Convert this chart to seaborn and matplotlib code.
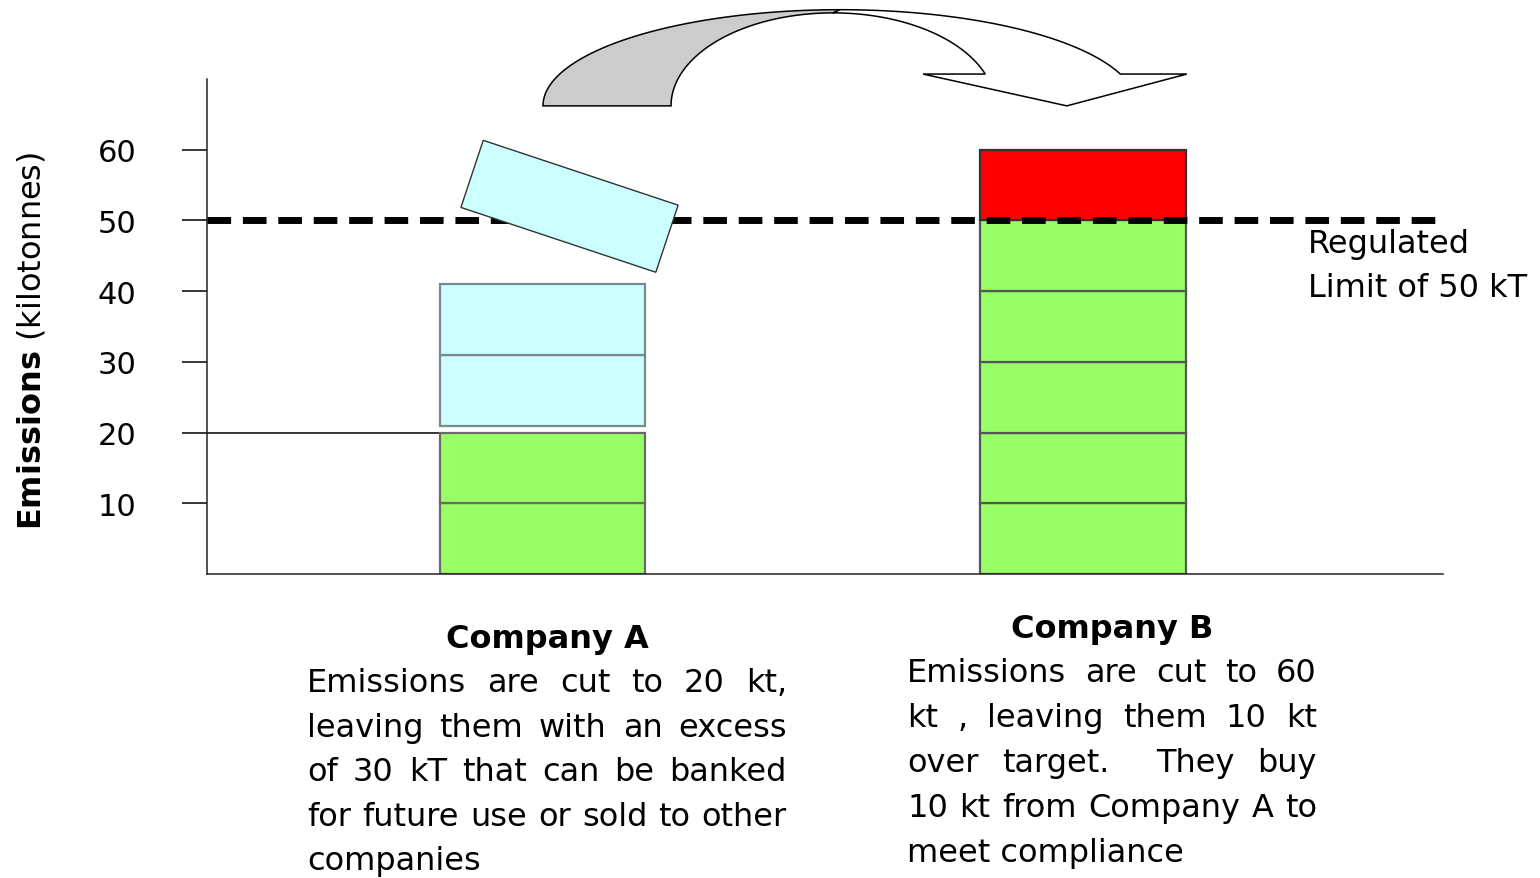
import numpy as np
import pandas as pd
import matplotlib
matplotlib.use("Agg")
import matplotlib.pyplot as plt
import matplotlib.transforms as mtransforms
from matplotlib.patches import Rectangle, Polygon
import seaborn as sns

# ------------------------------------------------------------
# Data (kilotonnes, one block = 10 kt)
# ------------------------------------------------------------
companies = ["Company A", "Company B"]
a_kept = [10, 10]               # green: what A still emits
a_banked = [10, 10]             # light blue: surplus A keeps
a_traded = 10                   # light blue block sold to B
b_kept = [10, 10, 10, 10, 10]   # green: B's emissions under the limit
b_over = [10]                   # red: B's emissions over the limit
limit = 50
y_ticks = [10, 20, 30, 40, 50, 60]

a_text = ["Emissions are cut to 20 kt,",
          "leaving them with an excess",
          "of 30 kT that can be banked",
          "for future use or sold to other",
          "companies"]
b_text = ["Emissions are cut to 60",
          "kt , leaving them 10 kt",
          "over target.  They buy",
          "10 kt from Company A to",
          "meet compliance"]

GREEN = "#99FF66"
BLUE = "#CCFFFF"
RED = "#FF0000"
FS = 23

W, H = 1540, 879
sns.set_theme(style="white")
plt.rcParams["font.family"] = ["DejaVu Sans"]
plt.rcParams["mathtext.fontset"] = "dejavusans"
plt.rcParams["text.color"] = "black"


def fx(px):
    return px / W


def fy(py):
    return 1 - py / H


fig = plt.figure(figsize=(W / 100, H / 100), dpi=100)
ax = fig.add_axes([fx(207), fy(575), (1443 - 207) / W, (575 - 80) / H])

pos = {c: i for i, c in enumerate(companies)}
bar_w = 0.38
stack_gap = 1.0

# build a block table: one row per 10 kt rectangle
rows = []
bottom = 0
for h in a_kept:
    rows.append(("Company A", bottom, h, GREEN, "#6a6a6a"))
    bottom += h
bottom += stack_gap
for h in a_banked:
    rows.append(("Company A", bottom, h, BLUE, "#7a8a8a"))
    bottom += h
bottom = 0
for h in b_kept:
    rows.append(("Company B", bottom, h, GREEN, "#555555"))
    bottom += h
bottom = limit
for h in b_over:
    rows.append(("Company B", bottom, h, RED, "#333333"))
    bottom += h
blocks = pd.DataFrame(rows, columns=["company", "bottom", "height", "fill", "edge"])

for _, r in blocks.iterrows():
    ax.bar(pos[r["company"]], r["height"], bottom=r["bottom"], width=bar_w,
           color=r["fill"], edgecolor=r["edge"], linewidth=1.6, zorder=2)

x_left, x_right = -0.6207, 1.666
ax.set_xlim(x_left, x_right)
ax.set_ylim(0, 70)

# regulated limit
ax.axhline(limit, color="black", lw=5, linestyle=(0, (3.4, 1.7)), zorder=3)

# line from the 20 kt tick to company A's bar
ax.hlines(sum(a_kept), x_left, pos["Company A"] - bar_w / 2,
          color="black", lw=1.1, zorder=1)

# axes styling
ax.set_xticks([])
ax.set_yticks(y_ticks)
ax.set_yticklabels([str(t) for t in y_ticks])
ax.tick_params(axis="y", direction="out", length=18, width=1.1, pad=33,
               labelsize=22, colors="black", left=True)
sns.despine(ax=ax)
for s in ["left", "bottom"]:
    ax.spines[s].set_color("#222222")
    ax.spines[s].set_linewidth(1.1)
ax.grid(False)

# block being sold, tipped over the limit line
tx, ty = pos["Company A"] + 0.05, limit + 2
cx_d, cy_d = ax.transData.transform((tx, ty))
tilt = mtransforms.Affine2D().rotate_deg_around(cx_d, cy_d, -18.4)
ax.add_patch(Rectangle((tx - bar_w / 2, ty - a_traded / 2), bar_w, a_traded,
                       transform=ax.transData + tilt, facecolor=BLUE,
                       edgecolor="#333333", lw=1.0, zorder=4, clip_on=False))


# curved arrow from A to B
def arc(cx, cy, a, b, t0, t1, n=80):
    t = np.radians(np.linspace(t0, t1, n))
    return np.column_stack([cx + a * np.cos(t), cy + b * np.sin(t)])


base_y = 66.2
o_cx, o_a, o_b = 0.5504, 0.5495, 13.6
i_cx, i_a, i_b = 0.5375, 0.2997, 13.15
wing_y = 70.7
wing_l, wing_r, tip_x = 0.704, 1.192, 0.970
t_o = np.degrees(np.arcsin((wing_y - base_y) / o_b))
t_i = np.degrees(np.arcsin((wing_y - base_y) / i_b))

gray_pts = np.vstack([arc(o_cx, base_y, o_a, o_b, 180, 90),
                      arc(i_cx, base_y, i_a, i_b, 90, 180)])
white_pts = np.vstack([arc(o_cx, base_y, o_a, o_b, 90, t_o),
                       [[wing_r, wing_y], [tip_x, base_y], [wing_l, wing_y]],
                       arc(i_cx, base_y, i_a, i_b, t_i, 90)])
ax.add_patch(Polygon(gray_pts, closed=True, facecolor="#CCCCCC",
                     edgecolor="black", lw=1.1, zorder=5, clip_on=False))
ax.add_patch(Polygon(white_pts, closed=True, facecolor="white",
                     edgecolor="black", lw=1.1, zorder=5, clip_on=False))

# texts
fig.text(fx(32), fy(341), r"$\mathbf{Emissions}$ (kilotonnes)", rotation=90,
         ha="center", va="center", fontsize=FS, color="black")
fig.text(fx(1308), fy(253), "Regulated", ha="left", va="baseline",
         fontsize=FS, color="black")
fig.text(fx(1308), fy(297), "Limit of 50 kT", ha="left", va="baseline",
         fontsize=FS, color="black")

fig.text(fx(547), fy(648), "Company A", ha="center", va="baseline",
         fontsize=FS, fontweight="bold", color="black")
fig.text(fx(1112), fy(638), "Company B", ha="center", va="baseline",
         fontsize=FS, fontweight="bold", color="black")

renderer = fig.canvas.get_renderer()


def justified(lines, x0, x1, y0, step):
    for k, line in enumerate(lines):
        y = fy(y0 + k * step)
        words = line.split(" ")
        if k == len(lines) - 1 or len(words) == 1:
            fig.text(fx(x0), y, line, ha="left", va="baseline", fontsize=FS,
                     color="black")
            continue
        ts = [fig.text(0, y, w, ha="left", va="baseline", fontsize=FS,
                       color="black") for w in words]
        widths = [t.get_window_extent(renderer).width if w else 0.0
                  for t, w in zip(ts, words)]
        space = ((x1 - x0) - sum(widths)) / (len(words) - 1)
        x = x0
        for t, wd in zip(ts, widths):
            t.set_x(fx(x))
            x += wd + space


justified(a_text, 307, 787, 692, 44.6)
justified(b_text, 907, 1317, 682, 45.0)

fig.savefig("out.png", dpi=100, facecolor="white")
